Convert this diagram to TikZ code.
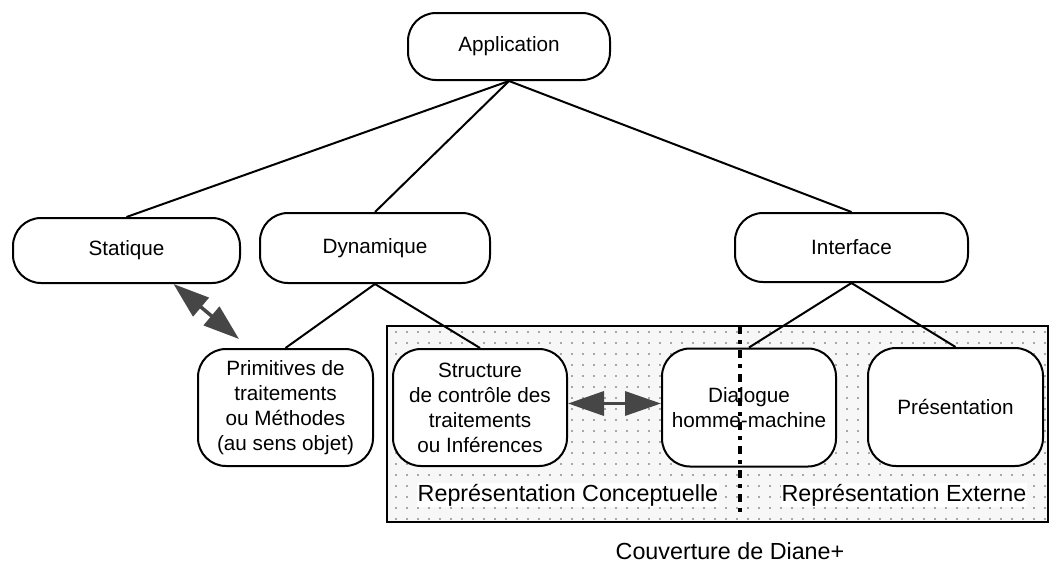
\documentclass[tikz,border=0pt]{standalone}
\usepackage{fontspec}
\setmainfont{Liberation Sans}
\usetikzlibrary{arrows.meta,calc,patterns.meta}

\tikzset{
  boite/.style={draw, line width=2pt, rounded corners=28pt, fill=white, align=center,
    inner sep=0pt, font=\fontsize{20.7}{25}\selectfont},
  lien/.style={line width=2pt},
  fleche/.style={line width=3.5pt, draw=gray!55!black,
    {Triangle[length=36pt,width=24pt]}-{Triangle[length=36pt,width=24pt]}},
  etiq/.style={font=\fontsize{23.3}{28}\selectfont, fill=white, inner sep=1pt}
}

\begin{document}
\begin{tikzpicture}[x=1pt,y=1pt]
    \useasboundingbox (0,0) rectangle (1060,-563);

    % zone couverte
    \fill[gray!6] (387,-326) rectangle (1048,-522);
    \fill[pattern={Dots[distance=11pt,radius=0.9pt]}, pattern color=gray!70!black] (387,-326) rectangle (1048,-522);
    \draw[line width=2pt] (387,-326) rectangle (1048,-522);

    % noeuds
    \node[boite, minimum width=202pt, minimum height=67pt] (app) at (509,-46.5) {Application};
    \node[boite, minimum width=227pt, minimum height=65pt] (stat) at (126.5,-250.5) {Statique};
    \node[boite, minimum width=230pt, minimum height=70pt] (dyn) at (375,-248) {Dynamique};
    \node[boite, minimum width=233pt, minimum height=69pt] (intf) at (851.5,-247.5) {Interface};

    \node[boite, minimum width=175pt, minimum height=117pt] (prim) at (285.5,-407.5) {Primitives de\\traitements\\ou Méthodes\\(au sens objet)};
    \node[boite, minimum width=174pt, minimum height=117pt] (struc) at (480,-407.5) {Structure\\de contrôle des\\traitements\\ou Inférences};
    \node[boite, minimum width=174pt, minimum height=118pt] (dial) at (749,-407.5) {Dialogue\\homme-machine};
    \node[boite, minimum width=175pt, minimum height=118pt] (pres) at (955.5,-407) {Présentation};

    % arbre
    \draw[lien] (app.south) -- (stat.north);
    \draw[lien] (app.south) -- (dyn.north);
    \draw[lien] (app.south) -- (intf.north);
    \draw[lien] (dyn.south) -- (prim.north);
    \draw[lien] (dyn.south) -- (struc.north);
    \draw[lien] (intf.south) -- (dial.north);
    \draw[lien] (intf.south) -- (pres.north);

    % separation conceptuel / externe
    \draw[line width=3.5pt, dash pattern=on 8pt off 6pt on 4pt off 6pt] (740,-326) -- (740,-513);

    % echanges
    \draw[fleche] ($(stat.south)+(47,0)$) -- ($(prim.north west)+(42,9)$);
    \draw[fleche] ($(struc.east)+(0,4)$) -- ($(dial.west)+(0,4)$);

    % legendes
    \node[etiq] (conc) at (568,-495) {Représentation Conceptuelle};
    \node[etiq] (ext) at (904,-495) {Représentation Externe};
    \node[font=\fontsize{23.3}{28}\selectfont] (couv) at (730,-551) {Couverture de Diane+};
\end{tikzpicture}
\end{document}
